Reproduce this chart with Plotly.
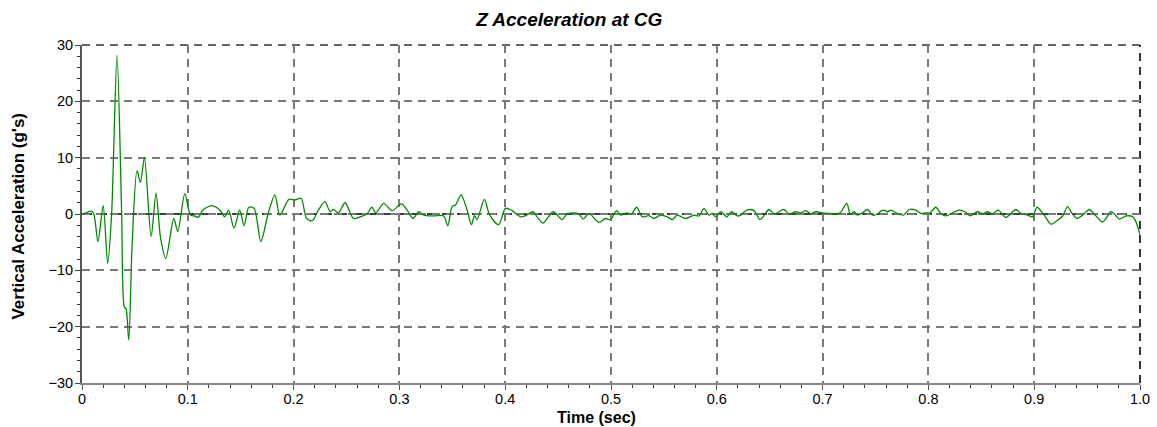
import plotly.graph_objects as go

time_s = [0.000, 0.004, 0.0085, 0.011, 0.0151, 0.020, 0.0243, 0.028, 0.0331, 0.0375,
          0.040, 0.0416, 0.0442, 0.0473, 0.052, 0.0552, 0.059, 0.0653, 0.070, 0.0741,
          0.0792, 0.0868, 0.0905, 0.0972, 0.1025, 0.1063, 0.110, 0.1142, 0.1222, 0.1269,
          0.1316, 0.1348, 0.1386, 0.1437, 0.149, 0.1532, 0.1576, 0.1627, 0.169, 0.176,
          0.1823, 0.187, 0.1956, 0.2013, 0.207, 0.2123, 0.2177, 0.2234, 0.2297, 0.2345,
          0.2377, 0.2424, 0.2487, 0.2566, 0.263, 0.2693, 0.274, 0.2778, 0.2851, 0.293,
          0.302, 0.3073, 0.3129, 0.3183, 0.323, 0.3324, 0.3419, 0.3457, 0.3498, 0.353,
          0.3583, 0.364, 0.3681, 0.371, 0.3734, 0.3803, 0.3854, 0.3939, 0.4002, 0.4065,
          0.4144, 0.4201, 0.4264, 0.4302, 0.4358, 0.4453, 0.4538, 0.4586, 0.4649, 0.4697,
          0.4738, 0.4791, 0.4886, 0.4949, 0.4996, 0.5053, 0.5091, 0.5148, 0.5192, 0.5243,
          0.5296, 0.5358, 0.5405, 0.5468, 0.5532, 0.5579, 0.5626, 0.5705, 0.5785, 0.5832,
          0.5879, 0.5926, 0.5958, 0.599, 0.6037, 0.6094, 0.6138, 0.6195, 0.6226, 0.6283,
          0.6352, 0.6409, 0.6494, 0.6541, 0.6636, 0.6683, 0.6746, 0.6794, 0.6841, 0.6888,
          0.6935, 0.6999, 0.7062, 0.7125, 0.7166, 0.7229, 0.7261, 0.7299, 0.733, 0.7377,
          0.7425, 0.7472, 0.7519, 0.7557, 0.7581, 0.7613, 0.7644, 0.7676, 0.7764, 0.7818,
          0.7881, 0.7928, 0.7975, 0.8016, 0.807, 0.8117, 0.8165, 0.8228, 0.8291, 0.8345,
          0.8394, 0.8464, 0.8511, 0.8559, 0.8606, 0.866, 0.8732, 0.8827, 0.8874, 0.8937,
          0.8985, 0.9026, 0.9095, 0.9158, 0.9221, 0.9269, 0.9316, 0.9354, 0.9404, 0.9458,
          0.9521, 0.9568, 0.9647, 0.9726, 0.9758, 0.9805, 0.9868, 0.9931, 0.9962, 1.000]

accel_g = [0.0, 0.2, 0.5, 0.1, -4.9, 1.5, -8.8, 0.0, 28.2, 0.0,
           -16.5, -16.8, -22.4, -5.8, 7.7, 5.6, 10.0, -4.0, 3.7, -4.0,
           -7.9, -0.8, -3.1, 3.6, -0.2, -0.35, -0.6, 0.7, 1.5, 1.2,
           0.4, -0.5, 0.7, -2.5, 0.7, -2.1, 1.2, 1.0, -4.9, 0.1,
           3.4, -0.2, 2.6, 2.5, 2.8, -0.8, -1.2, 0.7, 2.2, 0.4,
           0.8, 0.2, 2.0, -0.8, -0.5, 0.0, 1.2, 0.2, 1.9, 0.6,
           1.8, 0.7, -0.8, 0.4, -0.2, -0.35, -0.35, -2.1, 1.3, 1.6,
           3.4, 0.7, -1.9, -0.3, -1.0, 2.6, -0.2, -1.9, 1.0, 0.6,
           -0.5, -0.2, 0.4, -0.5, -1.6, 0.4, -1.0, 0.0, 0.2, 0.0,
           -0.9, 0.1, -1.5, -0.8, -1.0, 0.6, -0.2, 0.2, 0.0, 1.2,
           -0.5, -0.3, -0.8, -0.2, -0.5, -1.0, -0.2, -0.8, -0.2, -0.35,
           1.0, -0.2, 0.1, -0.5, 0.4, -0.5, 0.4, -0.35, -0.2, 0.7,
           0.6, -1.0, 0.8, 0.0, 0.8, 0.0, 0.4, 0.2, 0.6, 0.0,
           0.4, 0.2, 0.1, 0.0, 0.2, 1.9, 0.0, 0.4, -0.2, 0.2,
           0.8, -0.2, 0.0, 0.6, 0.7, 0.4, 0.7, 0.4, -0.2, 0.8,
           0.7, 0.1, 0.2, 0.2, 1.2, 0.1, -0.35, 0.2, 0.7, 0.4,
           -0.35, 0.4, 0.0, 0.4, 0.0, 0.7, -0.6, 0.8, 0.1, -0.2,
           -0.5, 1.2, -0.2, -1.8, -1.1, -0.35, 1.3, 0.2, -0.8, -0.2,
           0.8, 0.0, -1.4, 0.4, 0.0, -0.9, -0.35, -0.5, -1.4, -3.7]

x_ticks = [0, 0.1, 0.2, 0.3, 0.4, 0.5, 0.6, 0.7, 0.8, 0.9, 1.0]
x_tick_labels = ["0", "0.1", "0.2", "0.3", "0.4", "0.5", "0.6", "0.7", "0.8", "0.9", "1.0"]
y_ticks = [-30, -20, -10, 0, 10, 20, 30]

FONT = "Liberation Sans, Arial, sans-serif"

fig = go.Figure()
fig.add_trace(go.Scatter(
    x=time_s, y=accel_g, mode="lines",
    line=dict(color="#008a00", width=1.3, shape="spline", smoothing=0.8),
    showlegend=False,
))

grid_common = dict(showgrid=True, gridcolor="#7a7a7a", gridwidth=1.6, griddash="8px,6px",
                   zeroline=False, showline=True, ticks="outside", ticklen=5,
                   automargin=False,
                   tickfont=dict(family=FONT, size=14.5, color="#000"))

fig.update_xaxes(range=[0, 1.0], tickvals=x_ticks, ticktext=x_tick_labels,
                 linecolor="#888888", linewidth=2, tickcolor="#555555",
                 ticklabelstandoff=-3,
                 minor=dict(dtick=0.02, tick0=0, ticks="outside", ticklen=3, tickcolor="#333", showgrid=False),
                 **grid_common)
fig.update_yaxes(range=[-30, 30], tickvals=y_ticks,
                 linecolor="#555555", linewidth=2, tickcolor="#444444",
                 ticklabelstandoff=-1,
                 minor=dict(dtick=2, tick0=0, ticks="outside", ticklen=3, tickcolor="#333", showgrid=False),
                 **grid_common)

# axis titles
fig.add_annotation(text="<b>Time (sec)</b>", xref="paper", yref="paper", x=0.486, y=-0.101,
                   showarrow=False, xanchor="center", yanchor="middle",
                   font=dict(family=FONT, size=16, color="#000"))
fig.add_annotation(text="<b>Vertical Acceleration (g's)</b>", xref="paper", yref="paper", x=-0.060, y=0.494,
                   showarrow=False, xanchor="center", yanchor="middle", textangle=-90,
                   font=dict(family=FONT, size=17, color="#000"))

# zero line (black dashed) and dark top/right borders
fig.add_shape(type="line", xref="paper", yref="y", x0=0, x1=1, y0=0, y1=0,
              line=dict(color="#000000", width=1.3, dash="10px,5px"), layer="below")
fig.add_shape(type="line", xref="paper", yref="paper", x0=0, x1=1, y0=1, y1=1,
              line=dict(color="#333333", width=1.6, dash="8px,6px"), layer="below")
fig.add_shape(type="line", xref="paper", yref="paper", x0=1, x1=1, y0=0, y1=1,
              line=dict(color="#333333", width=2, dash="8px,6px"), layer="below")

fig.update_layout(
    width=1157, height=427,
    margin=dict(l=82, r=17, t=45, b=44),
    paper_bgcolor="white", plot_bgcolor="white",
    title=dict(text="<b><i>Z Acceleration at CG</i></b>", x=0.492, xanchor="center",
               y=0.955, yanchor="middle", xref="container", yref="container",
               font=dict(family=FONT, size=19, color="#000")),
)

fig.write_html("out.html")
